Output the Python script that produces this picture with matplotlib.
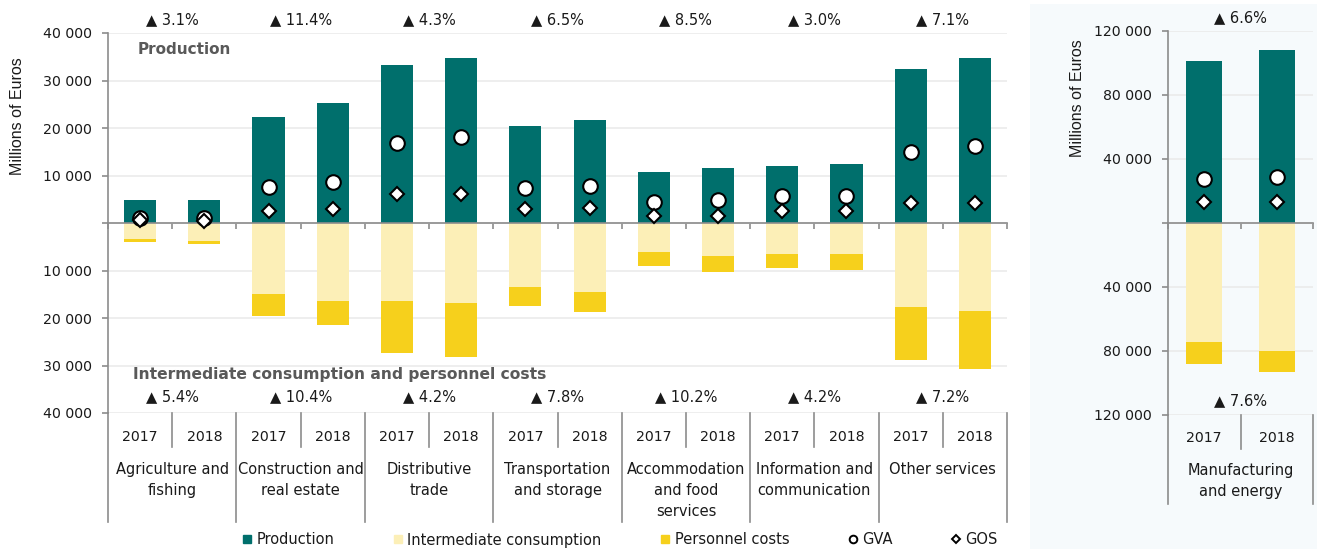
import matplotlib
matplotlib.use("Agg")
import matplotlib.pyplot as plt
import matplotlib.transforms as mtransforms
from matplotlib.patches import Rectangle
from matplotlib.lines import Line2D
import numpy as np

# ---------------- data ----------------
categories = ["Agriculture and\nfishing", "Construction and\nreal estate", "Distributive\ntrade",
              "Transportation\nand storage", "Accommodation\nand food\nservices",
              "Information and\ncommunication", "Other services"]
years = ["2017", "2018"]
production = [4800, 4800, 22300, 25200, 33300, 34700, 20400, 21700, 10700, 11600, 12000, 12400, 32400, 34700]
intermediate = [3400, 3700, 15000, 16500, 16500, 16900, 13500, 14600, 6100, 7000, 6500, 6500, 17700, 18600]
personnel = [700, 800, 4500, 5000, 10800, 11400, 4000, 4200, 3000, 3300, 3000, 3400, 11200, 12200]
gva = [1000, 1000, 7600, 8600, 16800, 18100, 7400, 7800, 4400, 4800, 5700, 5700, 14900, 16200]
gos = [600, 500, 2500, 2900, 6100, 6100, 2900, 3100, 1500, 1400, 2600, 2600, 4200, 4200]
prod_growth = ["3.1%", "11.4%", "4.3%", "6.5%", "8.5%", "3.0%", "7.1%"]
cost_growth = ["5.4%", "10.4%", "4.2%", "7.8%", "10.2%", "4.2%", "7.2%"]

m_category = "Manufacturing\nand energy"
m_production = [101000, 107900]
m_intermediate = [74600, 80000]
m_personnel = [13300, 13400]
m_gva = [27400, 28500]
m_gos = [13100, 13100]
m_prod_growth = "6.6%"
m_cost_growth = "7.6%"

# ---------------- style ----------------
C_PROD = "#006F6C"
C_IC = "#FCEFB7"
C_PC = "#F6D01C"
C_GRID = "#EBEBEB"
C_AX = "#8C8C8C"
C_TXT = "#1A1A1A"
FONT = "DejaVu Sans"
FS = 10.5
plt.rcParams["font.family"] = [FONT]

W, H = 1317, 549
fig = plt.figure(figsize=(W / 100, H / 100), dpi=100)

# right-panel background
fig.patches.append(Rectangle((1030 / W, 0), (W - 1030) / W, 545 / H, transform=fig.transFigure,
                             facecolor="#F6FAFC", edgecolor="none", zorder=-5))


def fy(p):
    return 1 - p / H


def fmt(v):
    if v == 0:
        return ""
    return f"{abs(int(v)):,}".replace(",", " ")


def setup_axes(ax, n, lim, step):
    ax.set_xlim(-0.5, n - 0.5)
    ax.set_ylim(-lim, lim)
    ticks = np.arange(-lim, lim + 1, step)
    ax.set_yticks(ticks)
    ax.set_yticklabels([fmt(t) for t in ticks], fontsize=10.2, color=C_TXT)
    ax.yaxis.grid(True, color=C_GRID, lw=1.2, zorder=0)
    ax.set_axisbelow(True)
    for s in ["top", "right"]:
        ax.spines[s].set_visible(False)
    ax.spines["left"].set_color(C_AX)
    ax.spines["left"].set_linewidth(1.2)
    ax.spines["bottom"].set_position(("data", 0))
    ax.spines["bottom"].set_color(C_AX)
    ax.spines["bottom"].set_linewidth(1.2)
    ax.set_xticks(np.arange(-0.5, n, 1.0))
    ax.set_xticklabels([])
    ax.tick_params(axis="x", length=4, color=C_AX, width=1.2)
    ax.tick_params(axis="y", length=4.5, color=C_AX, width=1.2, pad=7)
    ax.set_facecolor("none")
    ax.set_zorder(2)


def draw(ax, prod, ic, pc, gv, go):
    x = np.arange(len(prod))
    ax.bar(x, prod, width=0.5, color=C_PROD, zorder=2)
    ax.bar(x, -np.array(ic), width=0.5, color=C_IC, zorder=2)
    ax.bar(x, -np.array(pc), bottom=-np.array(ic), width=0.5, color=C_PC, zorder=2)
    ax.plot(x, gv, ls="none", marker="o", ms=10.5, mfc="white", mec="black", mew=1.5, zorder=4)
    ax.plot(x, go, ls="none", marker="D", ms=7.5, mfc="white", mec="black", mew=1.5, zorder=5)


def labels_below(ax, cats, y_axis_px, year_y, cat_y, long_end, short_end):
    tr = mtransforms.blended_transform_factory(ax.transData, fig.transFigure)
    n = len(cats)
    for i, c in enumerate(cats):
        for j, yr in enumerate(years):
            ax.text(2 * i + j, fy(year_y), yr, transform=tr, ha="center", va="center", fontsize=10.2,
                    color=C_TXT)
        ax.text(2 * i + 0.5, fy(cat_y), c, transform=tr, ha="center", va="top", fontsize=FS,
                color=C_TXT, linespacing=1.5)
        ax.plot([2 * i + 0.5] * 2, [fy(y_axis_px), fy(short_end)], transform=tr, color=C_AX, lw=1.2,
                clip_on=False)
    for k in range(n + 1):
        ax.plot([2 * k - 0.5] * 2, [fy(y_axis_px), fy(long_end)], transform=tr, color=C_AX, lw=1.2,
                clip_on=False)


# ---------------- left panel ----------------
axL = fig.add_axes([108 / W, fy(413), (1007 - 108) / W, (413 - 33) / H])
draw(axL, production, intermediate, personnel, gva, gos)
setup_axes(axL, len(production), 40000, 10000)
labels_below(axL, categories, 413, 437, 462, 522, 447)
trL = mtransforms.blended_transform_factory(axL.transData, fig.transFigure)
for i in range(len(categories)):
    axL.text(2 * i + 0.5, fy(20), "▲ " + prod_growth[i], transform=trL, ha="center", va="center",
             fontsize=FS, color=C_TXT)
    axL.text(2 * i + 0.5, fy(397), "▲ " + cost_growth[i], transform=trL, ha="center", va="center",
             fontsize=FS, color=C_TXT)
axL.text(138 / W, fy(49), "Production", transform=fig.transFigure, ha="left", va="center",
         fontsize=11, fontweight="bold", color="#595959")
axL.text(133 / W, fy(374), "Intermediate consumption and personnel costs", transform=fig.transFigure,
         ha="left", va="center", fontsize=11.2, fontweight="bold", color="#595959")
fig.text(18 / W, fy(116), "Millions of Euros", rotation=90, ha="center", va="center", fontsize=11.5,
         family="Liberation Sans", color=C_TXT)

# ---------------- right panel ----------------
axR = fig.add_axes([1168 / W, fy(415), (1313 - 1168) / W, (415 - 31) / H])
draw(axR, m_production, m_intermediate, m_personnel, m_gva, m_gos)
setup_axes(axR, 2, 120000, 40000)
labels_below(axR, [m_category], 415, 438, 463, 504, 449)
trR = mtransforms.blended_transform_factory(axR.transData, fig.transFigure)
axR.text(0.5, fy(18), "▲ " + m_prod_growth, transform=trR, ha="center", va="center", fontsize=FS,
         color=C_TXT)
axR.text(0.5, fy(401), "▲ " + m_cost_growth, transform=trR, ha="center", va="center", fontsize=FS,
         color=C_TXT)
fig.text(1077 / W, fy(98), "Millions of Euros", rotation=90, ha="center", va="center", fontsize=11.5,
         family="Liberation Sans", color=C_TXT)

# ---------------- legend ----------------
handles = [
    Line2D([], [], ls="none", marker="s", ms=6, mfc=C_PROD, mec=C_PROD),
    Line2D([], [], ls="none", marker="s", ms=6, mfc=C_IC, mec=C_IC),
    Line2D([], [], ls="none", marker="s", ms=6, mfc=C_PC, mec=C_PC),
    Line2D([], [], ls="none", marker="o", ms=5.5, mfc="white", mec="black", mew=1.4),
    Line2D([], [], ls="none", marker="D", ms=4.5, mfc="white", mec="black", mew=1.4),
]
fig.legend(handles, ["Production", "Intermediate consumption", "Personnel costs", "GVA", "GOS"],
           loc="center", bbox_to_anchor=(620 / W, fy(540)), ncol=5, frameon=False, fontsize=FS,
           handletextpad=0.3, columnspacing=4.0, handlelength=0.7, labelcolor=C_TXT)

fig.savefig("out.png", dpi=100)
